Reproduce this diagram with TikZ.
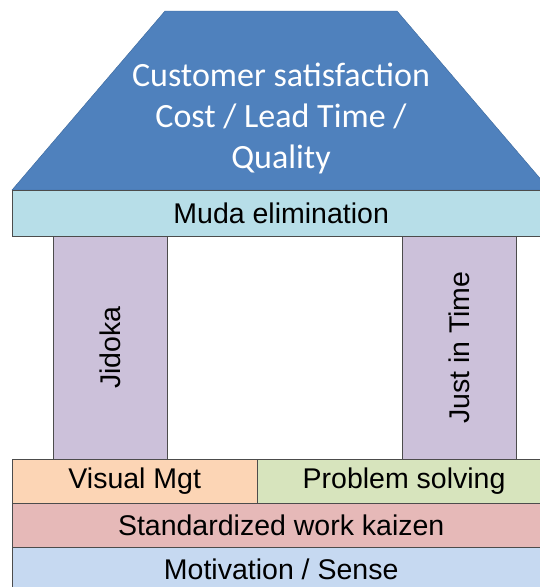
\documentclass[tikz,border=0pt]{standalone}
\usepackage{fontspec}
\setmainfont{Liberation Sans}
\newfontfamily\roofont{Carlito}
\usetikzlibrary{positioning}

\definecolor{roofblue}{HTML}{4F81BD}
\definecolor{roofline}{HTML}{3A679C}
\definecolor{mudafill}{HTML}{B7DEE8}
\definecolor{pillarfill}{HTML}{CCC1DA}
\definecolor{visfill}{HTML}{FCD5B5}
\definecolor{probfill}{HTML}{D7E4BD}
\definecolor{stdfill}{HTML}{E6B9B8}
\definecolor{motfill}{HTML}{C6D9F1}

\begin{document}
\begin{tikzpicture}[x=1pt,y=-1pt,
   band/.style={draw=black!70,thin,minimum width=538pt,minimum height=#1,inner sep=0pt,
                font=\fontsize{28.5}{32}\selectfont,anchor=north west},
   pillar/.style={draw=black!70,thin,fill=pillarfill,minimum width=114pt,minimum height=223pt,
                inner sep=0pt,anchor=north west},
   vert/.style={rotate=90,font=\fontsize{28.5}{32}\selectfont}
]
\useasboundingbox (0,0) rectangle (539,587);
% roof
\draw[roofline,fill=roofblue] (165,11) -- (397,11) -- (550,190) -- (12,190) -- cycle;
\node[text=white,align=center,font=\roofont\fontsize{34}{41}\selectfont] (goal) at (281,118)
   {Customer satisfaction\\Cost / Lead Time /\\Quality};
% beam
\node[band=46pt,fill=mudafill] (muda) at (12,190) {Muda elimination};
% pillars
\node[pillar] (jidoka) at (53,236) {};
\node[pillar] (jit) at (402,236) {};
\node[vert] at (jidoka.center) {Jidoka};
\node[vert] at (jit.center) {Just in Time};
% foundation
\node[band=44pt,fill=visfill,minimum width=245pt] (visual) at (12,459) {Visual Mgt};
\node[band=44pt,fill=probfill,minimum width=293pt,right=0pt of visual.north east,anchor=north west] (problem) {Problem solving};
\node[band=44pt,fill=stdfill] (std) at (12,503) {Standardized work kaizen};
\node[band=44pt,fill=motfill] (motiv) at (12,547) {Motivation / Sense};
\end{tikzpicture}
\end{document}
